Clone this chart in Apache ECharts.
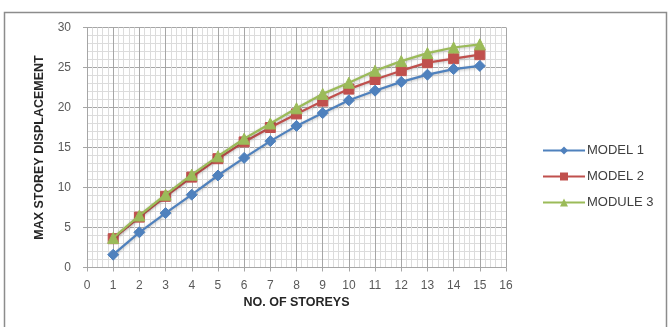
<!DOCTYPE html>
<html><head><meta charset="utf-8">
<script src="https://cdn.jsdelivr.net/npm/echarts@6/dist/echarts.min.js"></script>
<style>html,body{margin:0;padding:0;background:#fff}#c{width:668px;height:327px}</style>
</head><body><div id="c"></div>
<script>
const storeys = [1,2,3,4,5,6,7,8,9,10,11,12,13,14,15];
const model1 = [1.6, 4.4, 6.8, 9.1, 11.5, 13.7, 15.8, 17.7, 19.3, 20.9, 22.1, 23.2, 24.1, 24.8, 25.2];
const model2 = [3.6, 6.3, 8.9, 11.3, 13.6, 15.7, 17.5, 19.2, 20.8, 22.3, 23.5, 24.6, 25.6, 26.1, 26.6];
const module3 = [3.7, 6.5, 9.1, 11.6, 13.9, 16.1, 18.0, 19.9, 21.7, 23.1, 24.6, 25.8, 26.8, 27.5, 27.9];
const seriesNames = ['MODEL 1', 'MODEL 2', 'MODULE 3'];
const xTitle = 'NO. OF STOREYS';
const yTitle = 'MAX STOREY DISPLACEMENT';

const font = 'Liberation Sans';
function pairs(v){ return storeys.map((s,i)=>[s, v[i]]); }
const colors = ['#4F81BD', '#C0504D', '#9BBB59'];
const symbols = ['diamond', 'rect', 'triangle'];
const sizes = [11, 10, 11];
const data = [model1, model2, module3];

const chart = echarts.init(document.getElementById('c'), null, {renderer:'canvas'});
chart.setOption({
  backgroundColor: '#fff',
  animation: false,
  graphic: [{
    type: 'rect', shape: {x: 4.5, y: 12.5, width: 662, height: 340},
    style: {fill: 'none', stroke: '#8c8c8c', lineWidth: 1.5}, z: -1
  }],
  grid: {left: 87, right: 162, top: 27.5, bottom: 59.5},
  legend: {
    orient: 'vertical', left: 537, top: 139, itemGap: 13,
    itemWidth: 42, itemHeight: 10,
    textStyle: {fontFamily: font, fontSize: 13, color: '#404040', padding: [0,0,0,-3]},
    data: seriesNames
  },
  xAxis: {
    type: 'value', min: 0, max: 16, interval: 1,
    name: xTitle, nameLocation: 'middle', nameGap: 29,
    nameTextStyle: {fontFamily: font, fontSize: 12.5, fontWeight: 'bold', color: '#262626'},
    axisLine: {show: true, lineStyle: {color: '#a6a6a6'}},
    axisTick: {show: true, length: 4, lineStyle: {color: '#a6a6a6'}},
    axisLabel: {fontFamily: font, fontSize: 12, color: '#595959', margin: 12},
    splitLine: {show: true, lineStyle: {color: '#a6a6a6', width: 1}},
    minorTick: {show: false, splitNumber: 5},
    minorSplitLine: {show: true, lineStyle: {color: '#dcdcdc', width: 1}}
  },
  yAxis: {
    type: 'value', min: 0, max: 30, interval: 5,
    name: yTitle, nameLocation: 'middle', nameGap: 41,
    nameTextStyle: {fontFamily: font, fontSize: 12.5, fontWeight: 'bold', color: '#262626'},
    axisLine: {show: false},
    axisTick: {show: true, length: 4, lineStyle: {color: '#a6a6a6'}},
    axisLabel: {fontFamily: font, fontSize: 12, color: '#595959', margin: 16},
    splitLine: {show: true, lineStyle: {color: '#a6a6a6', width: 1}},
    minorTick: {show: false, splitNumber: 5},
    minorSplitLine: {show: true, lineStyle: {color: '#dcdcdc', width: 1}}
  },
  series: seriesNames.map((n,k)=>({
    name: n, type: 'line', data: pairs(data[k]),
    symbol: symbols[k], symbolSize: sizes[k], showSymbol: true,
    lineStyle: {color: colors[k], width: 2.25, shadowColor: 'rgba(0,0,0,0.25)', shadowBlur: 3, shadowOffsetY: 1},
    itemStyle: {color: colors[k], borderColor: colors[k]},
    z: 10 + (k === 0 ? 2 : (k === 1 ? 0 : 1))
  }))
});
</script>
</body></html>
